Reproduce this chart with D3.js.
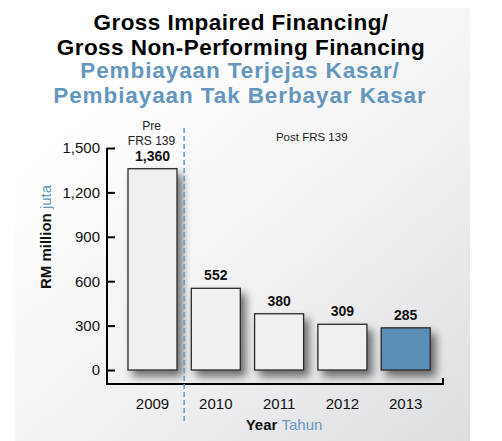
<!DOCTYPE html>
<html>
<head>
<meta charset="utf-8">
<script src="https://cdn.jsdelivr.net/npm/d3@7"></script>
<style>
  body { margin: 0; background: #fff; }
  svg { display: block; font-family: "Liberation Sans", Arial, sans-serif; }
</style>
</head>
<body>
<script>
const YEARS = ["2009", "2010", "2011", "2012", "2013"];
const VALUES = [1360, 552, 380, 309, 285];
const VALUE_LABELS = ["1,360", "552", "380", "309", "285"];
const Y_TICKS = [0, 300, 600, 900, 1200, 1500];
const TITLE_EN = ["Gross Impaired Financing/", "Gross Non-Performing Financing"];
const TITLE_MS = ["Pembiayaan Terjejas Kasar/", "Pembiayaan Tak Berbayar Kasar"];

const W = 502, H = 441;
const BLUE = "#6497c0";
const BAR_BLUE = "#5b8fb8";

const svg = d3.select("body").append("svg").attr("width", W).attr("height", H);
const defs = svg.append("defs");

const grad = defs.append("linearGradient").attr("id", "bg")
  .attr("x1", 0.25).attr("y1", 0.15).attr("x2", 1).attr("y2", 1);
grad.append("stop").attr("offset", 0).attr("stop-color", "#ffffff");
grad.append("stop").attr("offset", 0.5).attr("stop-color", "#f1f1f2");
grad.append("stop").attr("offset", 1).attr("stop-color", "#dcdde0");

const shadow = defs.append("filter").attr("id", "shadow")
  .attr("x", "-30%").attr("y", "-30%").attr("width", "180%").attr("height", "180%");
shadow.append("feDropShadow").attr("dx", 5).attr("dy", 6).attr("stdDeviation", 4)
  .attr("flood-color", "#000").attr("flood-opacity", 0.55);

// panel
svg.append("rect").attr("x", 15).attr("y", 8).attr("width", 455).attr("height", 440)
  .attr("fill", "url(#bg)");

// titles
const title = svg.append("g").attr("text-anchor", "middle").attr("font-weight", "bold");
title.selectAll("text.en").data(TITLE_EN).join("text")
  .attr("class", "en")
  .attr("x", 241).attr("y", (_, i) => 30 + i * 25)
  .attr("font-size", 22.5).attr("letter-spacing", 0.45).attr("fill", "#000")
  .text(d => d);
title.selectAll("text.ms").data(TITLE_MS).join("text")
  .attr("class", "ms")
  .attr("x", 240).attr("y", (_, i) => 78 + i * 25)
  .attr("font-size", 22.5).attr("letter-spacing", 0.9).attr("fill", BLUE)
  .text(d => d);

// scales
const x = d3.scaleBand().domain(YEARS).range([118.5, 439.7])
  .paddingInner(0.226).paddingOuter(0.15);
const y = d3.scaleLinear().domain([0, 1500]).range([370, 148]);

const AXIS_X = 107, BASE_Y = 384, RIGHT_X = 443;

// bars
svg.append("g").selectAll("rect").data(VALUES).join("rect")
  .attr("x", (_, i) => x(YEARS[i]))
  .attr("y", d => y(d))
  .attr("width", x.bandwidth())
  .attr("height", d => y(0) - y(d))
  .attr("fill", (_, i) => i === VALUES.length - 1 ? BAR_BLUE : "#f0f0f0")
  .attr("stroke", "#2a2a2a").attr("stroke-width", 1.3)
  .attr("filter", "url(#shadow)");

// value labels
svg.append("g").attr("text-anchor", "middle").attr("font-weight", "bold").attr("font-size", 14)
  .selectAll("text").data(VALUES).join("text")
  .attr("x", (_, i) => x(YEARS[i]) + x.bandwidth() / 2)
  .attr("y", d => y(d) - 8)
  .attr("fill", "#111")
  .text((_, i) => VALUE_LABELS[i]);

// y axis
const yAxis = svg.append("g").attr("transform", `translate(${AXIS_X},0)`)
  .call(d3.axisLeft(y).tickValues(Y_TICKS).tickFormat(d3.format(","))
    .tickSizeInner(-8).tickSizeOuter(0).tickPadding(7));
yAxis.select(".domain").remove();
yAxis.selectAll(".tick line").attr("stroke", "#000").attr("stroke-width", 2);
yAxis.selectAll(".tick text").attr("font-size", 15).attr("fill", "#111")
  .attr("font-family", "Liberation Sans, Arial, sans-serif");

// axis frame
svg.append("path")
  .attr("d", `M${AXIS_X},${y(1500)}V${BASE_Y}H${RIGHT_X}V${BASE_Y - 6}`)
  .attr("fill", "none").attr("stroke", "#000").attr("stroke-width", 2);

// x labels
const xAxis = svg.append("g").attr("transform", `translate(0,${BASE_Y})`)
  .call(d3.axisBottom(x).tickSize(0).tickPadding(14));
xAxis.select(".domain").remove();
xAxis.selectAll(".tick text").attr("font-size", 15).attr("fill", "#111")
  .attr("font-family", "Liberation Sans, Arial, sans-serif");

// divider between pre and post
const divX = x("2009") + x.bandwidth() + (x.step() - x.bandwidth()) / 2;
svg.append("line").attr("x1", divX).attr("x2", divX).attr("y1", 128).attr("y2", 421)
  .attr("stroke", "#6a9fcb").attr("stroke-width", 1.6).attr("stroke-dasharray", "5,3");

const cx2009 = x("2009") + x.bandwidth() / 2;
const notes = svg.append("g").attr("text-anchor", "middle").attr("font-size", 12).attr("fill", "#222");
notes.append("text").attr("x", cx2009 - 1).attr("y", 130).text("Pre");
notes.append("text").attr("x", cx2009 - 1).attr("y", 145).text("FRS 139");
notes.append("text").attr("x", (x("2011") + x("2012") + x.bandwidth()) / 2 + 1).attr("y", 141)
  .attr("font-size", 11.5).text("Post FRS 139");

// axis titles
const yt = svg.append("text").attr("transform", "translate(51,237) rotate(-90)")
  .attr("text-anchor", "middle").attr("font-size", 15);
yt.append("tspan").attr("font-weight", "bold").attr("fill", "#111").text("RM million ");
yt.append("tspan").attr("fill", BLUE).text("juta");

const xt = svg.append("text").attr("x", 284).attr("y", 430)
  .attr("text-anchor", "middle").attr("font-size", 15);
xt.append("tspan").attr("font-weight", "bold").attr("fill", "#111").text("Year ");
xt.append("tspan").attr("fill", BLUE).text("Tahun");
</script>
</body>
</html>
